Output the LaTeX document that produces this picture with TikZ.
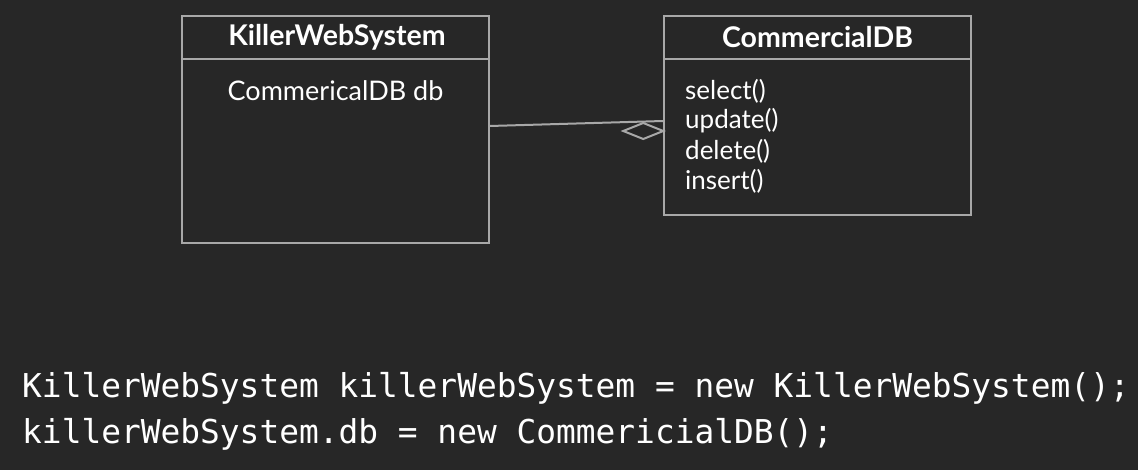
\documentclass[tikz,border=0pt]{standalone}
\usepackage{fontspec}
\setmainfont{Lato}
\newfontfamily\codefont{DejaVu Sans Mono}
\definecolor{bg}{HTML}{272727}
\definecolor{edge}{HTML}{A8A8A8}
\begin{document}
\begin{tikzpicture}[x=1pt,y=-1pt,
  umlbox/.style={draw=edge, line width=1.6pt, rectangle, inner sep=0pt},
  title/.style={text=white, font=\fontsize{28.5}{32}\selectfont\bfseries, anchor=center},
  attr/.style={text=white, font=\fontsize{27}{30}\selectfont, anchor=center},
  meth/.style={text=white, font=\fontsize{26}{30}\selectfont, anchor=west, inner sep=0pt},
  code/.style={text=white, font=\codefont\fontsize{32.85}{46}\selectfont, anchor=west, inner sep=0pt}]
\fill[bg] (0,0) rectangle (1138,470);
\useasboundingbox (0,0) rectangle (1138,470);
% left class
\node[umlbox, minimum width=307pt, minimum height=227pt] (kws) at (335.5,129.5) {};
\draw[edge, line width=1.6pt] (kws.north west |- 0,59) -- (kws.north east |- 0,59);
\node[title] (kwst) at (337,37) {KillerWebSystem};
\node[attr] (kwsa) at (335.5,91) {CommericalDB db};
% right class
\node[umlbox, minimum width=307pt, minimum height=199pt] (cdb) at (817.5,115.5) {};
\draw[edge, line width=1.6pt] (cdb.north west |- 0,59) -- (cdb.north east |- 0,59);
\node[title] (cdbt) at (817.5,37) {CommercialDB};
\node[meth] (m1) at (685,91) {select()};
\node[meth] (m2) at (685,121) {update()};
\node[meth] (m3) at (685,151) {delete()};
\node[meth] (m4) at (685,181) {insert()};
% association
\coordinate (a1) at (kws.east |- 0,126);
\coordinate (a2) at (cdb.west |- 0,121);
\draw[edge, line width=2pt] (a1) -- (a2);
\coordinate (d) at (cdb.west |- 0,131);
\draw[edge, line width=2pt] (d) -- ++(-20,-8) -- ++(-20,8) -- ++(20,8) -- cycle;
% code
\node[code] (c1) at (22,388) {KillerWebSystem killerWebSystem = new KillerWebSystem();};
\node[code] (c2) at (22,434) {killerWebSystem.db = new CommericialDB();};
\end{tikzpicture}
\end{document}
